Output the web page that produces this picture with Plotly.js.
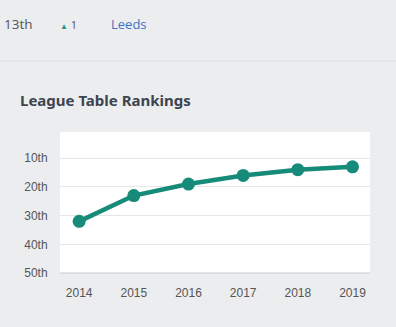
<!DOCTYPE html>
<html><head><meta charset="utf-8">
<script src="https://cdn.plot.ly/plotly-3.0.1.min.js"></script>
<style>html,body{margin:0;padding:0;background:#ecedef;}#chart{width:396px;height:327px;}</style>
</head><body><div id="chart"></div>
<script>
const years = [2014, 2015, 2016, 2017, 2018, 2019];
const rankings = [32, 23, 19, 16, 14, 13];
const yTickVals = [10, 20, 30, 40, 50];
const yTickText = ['10th', '20th', '30th', '40th', '50th'];
const chartTitle = 'League Table Rankings';
const currentRank = '13th';
const rankChange = '1';
const uniName = 'Leeds';

const trace = {
  x: years, y: rankings, type: 'scatter', mode: 'lines+markers',
  line: {color: '#168b7a', width: 4.5},
  marker: {color: '#168b7a', size: 13},
  hoverinfo: 'none'
};
const layout = {
  width: 396, height: 327,
  margin: {l: 60, r: 26, t: 132, b: 54},
  paper_bgcolor: '#ecedef', plot_bgcolor: '#ffffff',
  showlegend: false,
  font: {family: 'Liberation Sans, Arial, sans-serif', color: '#555555', size: 12},
  xaxis: {range: [2013.65, 2019.32], tickvals: years, ticktext: years.map(String),
    showgrid: false, zeroline: false, showline: false, ticks: 'outside', ticklen: 9, tickcolor: 'rgba(0,0,0,0)',
    tickfont: {size: 12, color: '#555555'}, fixedrange: true},
  yaxis: {range: [50, 0.85], tickvals: yTickVals, ticktext: yTickText,
    showgrid: true, gridcolor: '#e6e6e6', gridwidth: 1, zeroline: false,
    showline: false, ticks: 'outside', ticklen: 9, tickcolor: 'rgba(0,0,0,0)',
    tickfont: {size: 12, color: '#555555'}, fixedrange: true},
  shapes: [
    {type: 'line', xref: 'paper', yref: 'paper', x0: 0, x1: 1, y0: 0, y1: 0, line: {color: '#c8c8c8', width: 1}},
    {type: 'line', xref: 'paper', yref: 'paper', x0: -60/310, x1: 1+26/310, y0: (327-54-61)/141, y1: (327-54-61)/141, line: {color: '#e2e3e6', width: 1.5}}
  ],
  annotations: [
    {text: chartTitle, xref: 'paper', yref: 'paper', x: -42/310, y: (327-54-100)/141, xanchor: 'left', yanchor: 'middle', showarrow: false,
      font: {family: 'Noto Sans, sans-serif', size: 15, color: '#3c4450', weight: 'bold'}},
    {text: currentRank, xref: 'paper', yref: 'paper', x: -58/310, y: (327-54-24)/141, xanchor: 'left', yanchor: 'middle', showarrow: false,
      font: {family: 'Open Sans, sans-serif', size: 13.5, color: '#555555'}},
    {text: '<span style="color:#1f9a82;font-size:8px">▲</span> ' + rankChange, xref: 'paper', yref: 'paper', x: -2/310, y: (327-54-24)/141, xanchor: 'left', yanchor: 'middle', showarrow: false,
      font: {family: 'Open Sans, sans-serif', size: 11, color: '#555555'}},
    {text: uniName, xref: 'paper', yref: 'paper', x: 49/310, y: (327-54-24)/141, xanchor: 'left', yanchor: 'middle', showarrow: false,
      font: {family: 'Open Sans, sans-serif', size: 13, color: '#3a74c2'}}
  ]
};
Plotly.newPlot('chart', [trace], layout, {displayModeBar: false, staticPlot: true});
</script></body></html>
